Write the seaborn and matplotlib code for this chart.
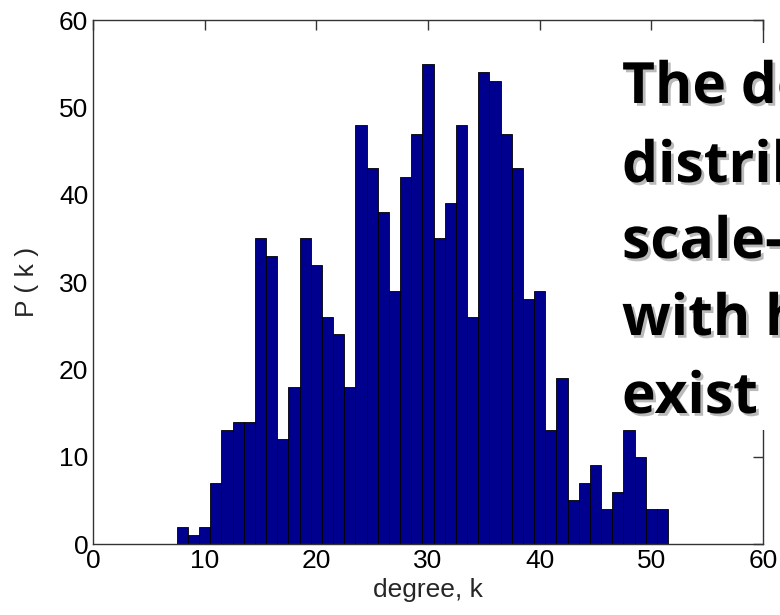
import numpy as np
import pandas as pd
import matplotlib
matplotlib.use("Agg")
import matplotlib.pyplot as plt
import matplotlib.patheffects as pe
from matplotlib.patches import Rectangle
import seaborn as sns

# ---- data ----
degree = [8, 9, 10, 11, 12, 13, 14, 15, 16, 17, 18, 19, 20, 21, 22, 23, 24, 25,
          26, 27, 28, 29, 30, 31, 32, 33, 34, 35, 36, 37, 38, 39, 40, 41, 42,
          43, 44, 45, 46, 47, 48, 49, 50, 51]
count = [2, 1, 2, 7, 13, 14, 14, 35, 33, 12, 18, 35, 32, 26, 24, 18, 48, 43,
         38, 29, 42, 47, 55, 35, 39, 48, 26, 54, 53, 47, 43, 28, 29, 13, 19,
         5, 7, 9, 4, 6, 13, 10, 4, 4]
ticks = [0, 10, 20, 30, 40, 50, 60]
x_label = "degree, k"
y_label = "P ( k )"
overlay_lines = ["The degree", "distribution", "scale-free", "with hubs", "exist"]

df = pd.DataFrame({"degree": degree, "count": count})

sns.set_style("white")
plt.rcParams["font.family"] = ["Liberation Sans", "DejaVu Sans"]

fig = plt.figure(figsize=(7.8, 6.15), dpi=100)
ax = fig.add_axes([93 / 780, 71 / 615, 670 / 780, 524 / 615])

sns.histplot(data=df, x="degree", weights="count", discrete=True,
             color="#00008F", edgecolor="black", linewidth=0.6, alpha=1.0,
             ax=ax)

ax.set_xlim(0, 60)
ax.set_ylim(0, 60)
ax.set_xticks(ticks)
ax.set_yticks(ticks)
ax.set_xlabel(x_label, fontsize=19, labelpad=4)
ax.set_ylabel(y_label, fontsize=19, labelpad=14)
ax.tick_params(direction="in", length=7, width=1, labelsize=19,
               top=True, right=True, colors="#333333", labelcolor="black")
for s in ax.spines.values():
    s.set_visible(True)
    s.set_color("#333333")
    s.set_linewidth(1.0)

# white panel of the overlaid slide text
rect = Rectangle((605 / 780, 1 - 430 / 615), (780 - 605) / 780, (430 - 43) / 615,
                 transform=fig.transFigure, facecolor="white", edgecolor="none",
                 zorder=5)
fig.add_artist(rect)

baselines = [103, 182, 258, 335, 413]
for line, yb in zip(overlay_lines, baselines):
    fig.text(622 / 780, 1 - yb / 615, line, fontsize=41, fontweight="bold",
             family=["Open Sans", "DejaVu Sans"], color="black", ha="left",
             va="baseline", zorder=6,
             path_effects=[pe.withSimplePatchShadow(offset=(2, -2),
                                                    shadow_rgbFace=(0.4, 0.4, 0.4),
                                                    alpha=0.45)])

fig.savefig("out.png", dpi=100)
